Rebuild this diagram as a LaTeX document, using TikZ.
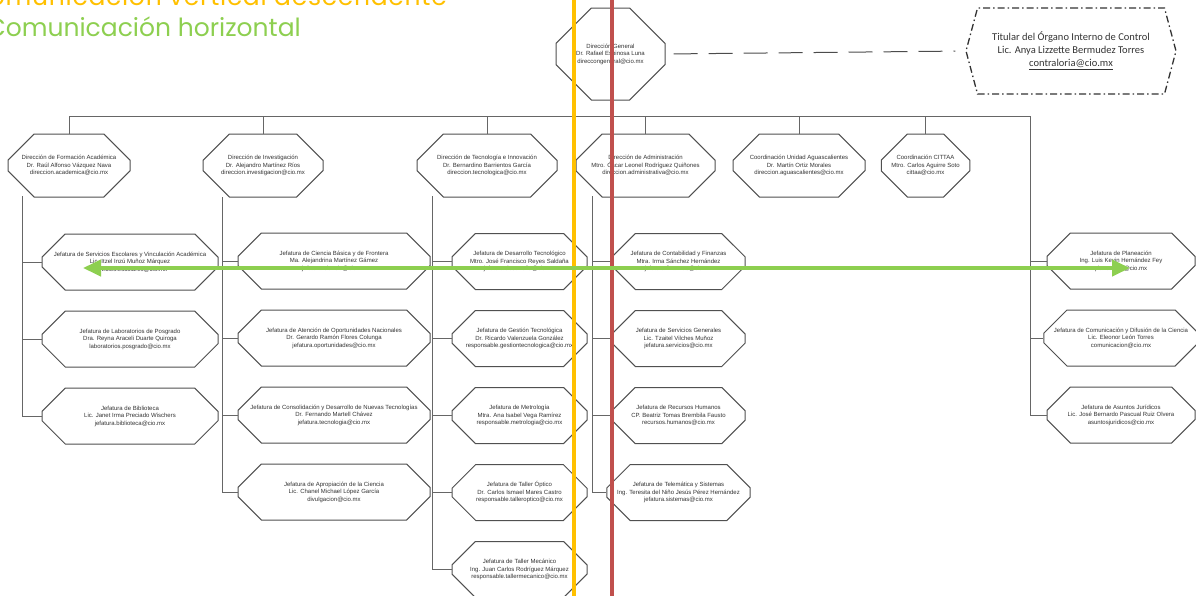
\documentclass[tikz,border=0pt]{standalone}
\usepackage{fontspec}
\setmainfont{Liberation Sans}
\newfontfamily\legendfont{Poppins}
\newfontfamily\legendwidefont[LetterSpace=3]{Poppins}
\newfontfamily\calfont{Carlito}
\usetikzlibrary{arrows.meta, positioning, shapes.misc, shapes.symbols}

\definecolor{vertorange}{HTML}{FFC000}
\definecolor{vertred}{HTML}{C0504D}
\definecolor{horgreen}{HTML}{8DCF50}
\definecolor{boxgray}{HTML}{505050}

\begin{document}
\begin{tikzpicture}[
		x=1pt, y=-1pt,
		node distance=20pt,
		box/.style={draw=boxgray, line width=1pt, fill=white, chamfered rectangle, chamfered rectangle xsep=14pt, chamfered rectangle ysep=14pt, inner sep=0pt, align=center, text=black!80, font=\fontsize{6}{7.5}\selectfont},
		dirbox/.style={box, minimum width=#1, minimum height=63pt, chamfered rectangle xsep=16pt, chamfered rectangle ysep=16pt},
		jefa/.style={box, minimum width=#1, minimum height=56pt, chamfered rectangle xsep=13pt, chamfered rectangle ysep=13pt},
		ctrl/.style={draw=black!80, line width=1.3pt, dash pattern=on 7pt off 3pt on 1.5pt off 3pt, signal, signal to=west and east, signal pointer angle=150, minimum width=210pt, minimum height=86pt, inner sep=0pt, align=center, text=black!80, font=\calfont\fontsize{10.5}{13}\selectfont},
		legend/.style={inner sep=0pt, font=\legendfont\fontsize{25}{25}\selectfont},
		link/.style={draw=black!60, line width=0.9pt},
		ctrlline/.style={draw=black!70, line width=1pt, dash pattern=on 24pt off 11pt, shorten <=8pt, shorten >=10pt},
		vline/.style={line width=4.5pt},
		harrow/.style={{Triangle[length=18pt, width=16pt]}-{Triangle[length=18pt, width=16pt]}, line width=4pt, draw=horgreen, fill=horgreen}
	]
	\useasboundingbox (0,0) rectangle (1196,595);

	% Legend
	\node[legend, font=\legendwidefont\fontsize{25}{25}\selectfont, text=vertorange, anchor=base east] (legvert) at (447,5) {Comunicación vertical descendente};
	\node[legend, text=horgreen, anchor=base east] (leghor) at (301,36) {Comunicación horizontal};

	% Nodes
	\node[box, minimum width=109pt, minimum height=92pt, chamfered rectangle xsep=18pt, chamfered rectangle ysep=25pt] (dirgen) at (610.5,54) {Dirección General\\Dr. Rafael Espinosa Luna\\direccongeneral@cio.mx};
	\node[ctrl] (ctrl) at (1071,51) {Titular del Órgano Interno de Control\\Lic. Anya Lizzette Bermudez Torres\\\underline{contraloria@cio.mx}};

	\node[dirbox=122pt] (dirfa) at (69,165.5) {Dirección de Formación Académica\\Dr. Raúl Alfonso Vázquez Nava\\direccion.academica@cio.mx};
	\node[dirbox=120pt] (dirinv) at (263,165.5) {Dirección de Investigación\\Dr. Alejandro Martínez Ríos\\direccion.investigacion@cio.mx};
	\node[dirbox=140pt] (dirtec) at (487,165.5) {Dirección de Tecnología e Innovación\\Dr. Bernardino Barrientos García\\direccion.tecnologica@cio.mx};
	\node[dirbox=139pt] (diradm) at (645.5,165.5) {Dirección de Administración\\Mtro. Óscar Leonel Rodríguez Quiñones\\direccion.administrativa@cio.mx};
	\node[dirbox=132pt] (diragu) at (799,165.5) {Coordinación Unidad Aguascalientes\\Dr. Martín Ortiz Morales\\direccion.aguascalientes@cio.mx};
	\node[dirbox=85pt] (dircit) at (925.5,165.5) {Coordinación CITTAA\\Mtro. Carlos Aguirre Soto\\cittaa@cio.mx};

	\node[jefa=176pt] (jA1) at (130,262) {Jefatura de Servicios Escolares y Vinculación Académica\\Lic. Itzel Inzú Muñoz Márquez\\servicios.escolares@cio.mx};
	\node[jefa=176pt, below=of jA1] (jA2) {Jefatura de Laboratorios de Posgrado\\Dra. Reyna Araceli Duarte Quiroga\\laboratorios.posgrado@cio.mx};
	\node[jefa=176pt, below=of jA2] (jA3) {Jefatura de Biblioteca\\Lic. Janet Irma Preciado Wischers\\jefatura.biblioteca@cio.mx};

	\node[jefa=192pt] (jB1) at (334,261) {Jefatura de Ciencia Básica y de Frontera\\Ma. Alejandrina Martínez Gámez\\jefatura.ciencia@cio.mx};
	\node[jefa=192pt, below=of jB1] (jB2) {Jefatura de Atención de Oportunidades Nacionales\\Dr. Gerardo Ramón Flores Colunga\\jefatura.oportunidades@cio.mx};
	\node[jefa=192pt, below=of jB2] (jB3) {Jefatura de Consolidación y Desarrollo de Nuevas Tecnologías\\Dr. Fernando Martell Chávez\\jefatura.tecnologia@cio.mx};
	\node[jefa=192pt, below=of jB3] (jB4) {Jefatura de Apropiación de la Ciencia\\Lic. Chanel Michael López García\\divulgacion@cio.mx};

	\node[jefa=135pt] (jC1) at (519.5,261.5) {Jefatura de Desarrollo Tecnológico\\Mtro. José Francisco Reyes Saldaña\\jefatura.desarrollo@cio.mx};
	\node[jefa=135pt, below=of jC1] (jC2) {Jefatura de Gestión Tecnológica\\Dr. Ricardo Valenzuela González\\responsable.gestiontecnologica@cio.mx};
	\node[jefa=135pt, below=of jC2] (jC3) {Jefatura de Metrología\\Mtra. Ana Isabel Vega Ramírez\\responsable.metrologia@cio.mx};
	\node[jefa=135pt, below=of jC3] (jC4) {Jefatura de Taller Óptico\\Dr. Carlos Ismael Mares Castro\\responsable.talleroptico@cio.mx};
	\node[jefa=135pt, below=of jC4] (jC5) {Jefatura de Taller Mecánico\\Ing. Juan Carlos Rodríguez Márquez\\responsable.tallermecanico@cio.mx};

	\node[jefa=133pt] (jD1) at (678.5,261.5) {Jefatura de Contabilidad y Finanzas\\Mtra. Irma Sánchez Hernández\\jefatura.finanzas@cio.mx};
	\node[jefa=133pt, below=of jD1] (jD2) {Jefatura de Servicios Generales\\Lic. Tzaitel Vilches Muñoz\\jefatura.servicios@cio.mx};
	\node[jefa=133pt, below=of jD2] (jD3) {Jefatura de Recursos Humanos\\CP. Beatriz Tomas Brembila Fausto\\recursos.humanos@cio.mx};
	\node[jefa=133pt, below=of jD3] (jD4) {Jefatura de Telemática y Sistemas\\Ing. Teresita del Niño Jesús Pérez Hernández\\jefatura.sistemas@cio.mx};

	\node[jefa=148pt] (jE1) at (1121,261) {Jefatura de Planeación\\Ing. Luis Kevin Hernández Fey\\planeacion@cio.mx};
	\node[jefa=148pt, below=of jE1] (jE2) {Jefatura de Comunicación y Difusión de la Ciencia\\Lic. Eleonor León Torres\\comunicacion@cio.mx};
	\node[jefa=148pt, below=of jE2] (jE3) {Jefatura de Asuntos Jurídicos\\Lic. José Bernardo Pascual Ruiz Olvera\\asuntosjuridicos@cio.mx};

	% Lines
	\coordinate (busR) at (1030,116);
	\coordinate (colA) at (22,196);
	\coordinate (colB) at (222,197);
	\coordinate (colC) at (432,196);
	\coordinate (colD) at (592,196);

	\draw[ctrlline] (dirgen.east) -- (ctrl.west);
	\draw[link] (dirgen.south) -- (dirgen.south |- busR);
	\draw[link] (dirfa.north |- busR) -- (busR);
	\foreach \d in {dirfa, dirinv, dirtec, diradm, diragu, dircit}
		\draw[link] (\d.north) -- (\d.north |- busR);

	\draw[link] (colA) -- (colA |- jA3.west);
	\foreach \j in {jA1, jA2, jA3}
		\draw[link] (colA |- \j.west) -- (\j.west);
	\draw[link] (colB) -- (colB |- jB4.west);
	\foreach \j in {jB1, jB2, jB3, jB4}
		\draw[link] (colB |- \j.west) -- (\j.west);
	\draw[link] (colC) -- (colC |- jC5.west);
	\foreach \j in {jC1, jC2, jC3, jC4, jC5}
		\draw[link] (colC |- \j.west) -- (\j.west);
	\draw[link] (colD) -- (colD |- jD4.west);
	\foreach \j in {jD1, jD2, jD3, jD4}
		\draw[link] (colD |- \j.west) -- (\j.west);
	\draw[link] (busR) -- (busR |- jE3.west);
	\foreach \j in {jE1, jE2, jE3}
		\draw[link] (busR |- \j.west) -- (\j.west);

	% Communication lines
	\coordinate (orT) at (574,-3);
	\coordinate (orB) at (574,598);
	\coordinate (reT) at (612,-3);
	\coordinate (reB) at (612,598);
	\coordinate (hL) at (83,268);
	\coordinate (hR) at (1130,268);
	\draw[vline, vertorange] (orT) -- (orB);
	\draw[vline, vertred] (reT) -- (reB);
	\draw[harrow] (hR) -- (hL);
\end{tikzpicture}
\end{document}
